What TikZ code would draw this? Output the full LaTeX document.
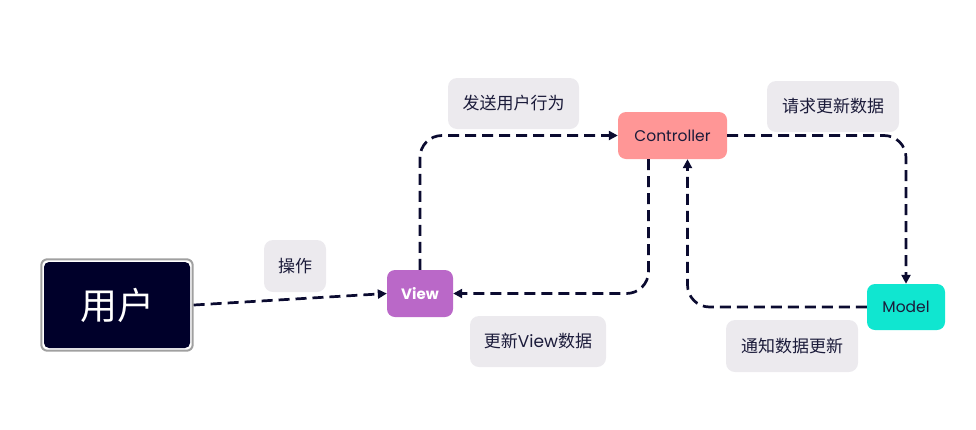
\documentclass[tikz,border=0pt]{standalone}
\usepackage{fontspec}
\setmainfont{Poppins}
\newfontfamily\cjk{Noto Sans CJK SC}
\usepackage{xcolor}
\usepackage{tikz}
\usetikzlibrary{arrows.meta,positioning,fit}
\definecolor{userdark}{HTML}{00002A}
\definecolor{framegray}{HTML}{A0A0A0}
\definecolor{viewpurple}{HTML}{BA68C8}
\definecolor{ctrlred}{HTML}{FF9696}
\definecolor{modelcyan}{HTML}{10E6D0}
\definecolor{taggray}{HTML}{ECEAEE}
\definecolor{edgenavy}{HTML}{0B0B30}
\definecolor{inkdark}{HTML}{1B1B3A}
\tikzset{
  mvcnode/.style={rounded corners=8pt,inner sep=0pt,minimum height=47pt,font=\fontsize{15.5}{18}\selectfont,text=inkdark},
  tagnode/.style={rounded corners=9pt,fill=taggray,inner sep=0pt,minimum height=51pt,font=\fontsize{17}{20}\selectfont,text=inkdark},
  flowarrow/.style={-{Triangle[length=9pt,width=9pt]},draw=edgenavy,line width=2.7pt,dash pattern=on 11pt off 6pt,rounded corners=22pt},
}
\begin{document}
\begin{tikzpicture}[x=1pt,y=-1pt]
        \useasboundingbox (0,0) rectangle (976,429);
        \node[fill=userdark,rounded corners=5pt,minimum width=146pt,minimum height=86pt,inner sep=0pt,text=white,font=\cjk\fontsize{37}{40}\selectfont] (user) at (117,305) {用户};
        \node[draw=framegray,line width=2pt,rounded corners=6pt,inner sep=2.5pt,fit=(user)] (userbox) {};
        \node[mvcnode,fill=viewpurple,minimum width=66pt,text=white,font=\bfseries\fontsize{15}{18}\selectfont] (view) at (420,293.5) {View};
        \node[mvcnode,fill=ctrlred,minimum width=109pt] (ctrl) at (672.5,135.5) {Controller};
        \node[mvcnode,fill=modelcyan,minimum width=78pt,minimum height=46pt] (model) at (906,307) {Model};
        \node[tagnode,minimum width=62pt,minimum height=52pt,font=\cjk\fontsize{17}{20}\selectfont] (tagop) at (295,266) {操作};
        \node[tagnode,minimum width=131pt,font=\cjk\fontsize{17}{20}\selectfont] (tagsend) at (513.5,103.5) {发送用户行为};
        \node[tagnode,minimum width=132pt,font=\cjk\fontsize{17}{20}\selectfont] (tagreq) at (833,106.5) {请求更新数据};
        \node[tagnode,minimum width=136pt] (tagupd) at (538,341.5) {{\cjk 更新}View{\cjk 数据}};
        \node[tagnode,minimum width=132pt,minimum height=52pt,font=\cjk\fontsize{17}{20}\selectfont] (tagnotify) at (792,346) {通知数据更新};
        \draw[flowarrow] (userbox.east)--(view.west);
        \draw[flowarrow] (view.north) |- (ctrl.west);
        \draw[flowarrow] ([xshift=-24pt]ctrl.south) |- (view.east);
        \draw[flowarrow] (ctrl.east) -| (model.north);
        \draw[flowarrow] (model.west) -| ([xshift=15pt]ctrl.south);
      \end{tikzpicture}
\end{document}
